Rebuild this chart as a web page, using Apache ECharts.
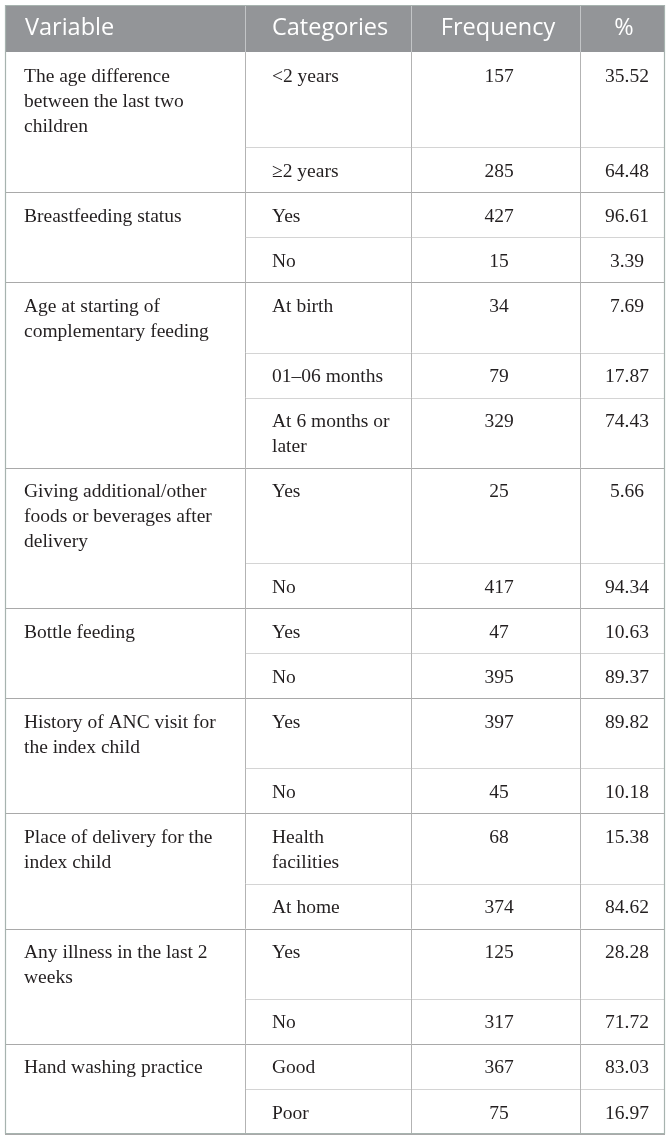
<!DOCTYPE html>
<html>
<head>
<meta charset="utf-8">
<script src="https://cdn.jsdelivr.net/npm/echarts@6/dist/echarts.min.js"></script>
<style>
  html, body { margin: 0; padding: 0; background: #ffffff; }
  #chart { width: 671px; height: 1139px; }
</style>
</head>
<body>
<div id="chart"></div>
<script>
// ---------------- DATA ----------------
const headers = ['Variable', 'Categories', 'Frequency', '%'];

const variables = [
  'The age difference\nbetween the last two\nchildren',
  'Breastfeeding status',
  'Age at starting of\ncomplementary feeding',
  'Giving additional/other\nfoods or beverages after\ndelivery',
  'Bottle feeding',
  'History of ANC visit for\nthe index child',
  'Place of delivery for the\nindex child',
  'Any illness in the last 2\nweeks',
  'Hand washing practice'
];

const categories = [
  '<2 years', '\u22652 years',
  'Yes', 'No',
  'At birth', '01\u201306 months', 'At 6 months or\nlater',
  'Yes', 'No',
  'Yes', 'No',
  'Yes', 'No',
  'Health\nfacilities', 'At home',
  'Yes', 'No',
  'Good', 'Poor'
];

const variableIndex = [0, 0, 1, 1, 2, 2, 2, 3, 3, 4, 4, 5, 5, 6, 6, 7, 7, 8, 8];

const frequency = [157, 285, 427, 15, 34, 79, 329, 25, 417, 47, 395, 397, 45, 68, 374, 125, 317, 367, 75];

const percent = [35.52, 64.48, 96.61, 3.39, 7.69, 17.87, 74.43, 5.66, 94.34, 10.63, 89.37, 89.82, 10.18, 15.38, 84.62, 28.28, 71.72, 83.03, 16.97];

// ---------------- LAYOUT ----------------
const COLS = [0, 240, 406, 575, 660];
const HEADER_H = 47;
const ROW_BASE = 20;
const LINE_H = 25;
const BODY_FAMILY = 'Liberation Serif';
const BODY_SIZE = 19.5;
const HEAD_FAMILY = 'Open Sans';
const HEAD_SIZE = 23.5;
const TEXT_COLOR = '#231f20';

const nLines = s => String(s).split('\n').length;

// rows computed from the data (line counts)
const rows = [];
let cursor = HEADER_H;
categories.forEach((c, i) => {
  const first = i === 0 || variableIndex[i] !== variableIndex[i - 1];
  const last = i === categories.length - 1 || variableIndex[i] !== variableIndex[i + 1];
  const lines = Math.max(nLines(c), first ? nLines(variables[variableIndex[i]]) : 1);
  const h = ROW_BASE + LINE_H * lines;
  rows.push({ top: cursor, bottom: cursor + h, first, last });
  cursor += h;
});
const TOTAL = cursor;

const px = v => Math.round(v) + 0.5;

function hLine(api, x1, x2, y, color) {
  const a = api.coord([x1, y]);
  const b = api.coord([x2, y]);
  return { type: 'line', shape: { x1: a[0], y1: px(a[1]), x2: b[0], y2: px(b[1]) }, style: { stroke: color, lineWidth: 1 } };
}
function vLine(api, x, y1, y2, color) {
  const a = api.coord([x, y1]);
  const b = api.coord([x, y2]);
  return { type: 'line', shape: { x1: px(a[0]), y1: a[1], x2: px(b[0]), y2: b[1] }, style: { stroke: color, lineWidth: 1 } };
}
function txt(api, x, y, text, align, dx, dy) {
  const p = api.coord([x, y]);
  return {
    type: 'text', x: p[0] + dx, y: p[1] + dy,
    style: { text: String(text), fill: TEXT_COLOR, fontFamily: BODY_FAMILY, fontSize: BODY_SIZE, align: align, verticalAlign: 'top', lineHeight: LINE_H }
  };
}

function renderHeader(params, api) {
  const tl = api.coord([COLS[0], 0]);
  const br = api.coord([COLS[4], HEADER_H]);
  const children = [
    { type: 'rect', shape: { x: tl[0], y: tl[1], width: br[0] - tl[0], height: br[1] - tl[1] }, style: { fill: '#939598' } }
  ];
  for (let k = 1; k < 4; k++) children.push(vLine(api, COLS[k], 0, HEADER_H, '#c3c5c7'));
  const mid = HEADER_H / 2;
  const mk = (x, t, align, dx) => {
    const p = api.coord([x, mid]);
    return { type: 'text', x: p[0] + dx, y: p[1],
      style: { text: t, fill: '#ffffff', fontFamily: HEAD_FAMILY, fontSize: HEAD_SIZE, align: align, verticalAlign: 'middle' } };
  };
  children.push(mk(COLS[0], headers[0], 'left', 20));
  children.push(mk(COLS[1], headers[1], 'left', 27));
  children.push(mk((COLS[2] + COLS[3]) / 2, headers[2], 'center', 2.5));
  children.push(mk((COLS[3] + COLS[4]) / 2, headers[3], 'center', 1.5));
  return { type: 'group', children };
}

function renderRow(params, api) {
  const i = params.dataIndex;
  const r = rows[i];
  const children = [];
  const dy = 12;
  if (r.first) {
    children.push(txt(api, COLS[0], r.top, variables[variableIndex[i]], 'left', 19, dy));
  }
  children.push(txt(api, COLS[1], r.top, categories[i], 'left', 27, dy));
  children.push(txt(api, (COLS[2] + COLS[3]) / 2, r.top, frequency[i], 'center', 3.5, dy));
  children.push(txt(api, (COLS[3] + COLS[4]) / 2, r.top, percent[i].toFixed(2), 'center', 4.5, dy));
  if (r.last) {
    children.push(hLine(api, COLS[0], COLS[4], r.bottom, '#a9a9a9'));
  } else {
    children.push(hLine(api, COLS[1], COLS[4], r.bottom, '#d4d4d4'));
  }
  for (let k = 1; k < 4; k++) children.push(vLine(api, COLS[k], r.top, r.bottom, '#b3b3b3'));
  return { type: 'group', children };
}

function renderBorder(params, api) {
  const tl = api.coord([COLS[0], 0]);
  const br = api.coord([COLS[4], TOTAL]);
  return {
    type: 'rect',
    shape: { x: px(tl[0]), y: px(tl[1]), width: Math.round(br[0] - tl[0]) - 1, height: Math.round(br[1] - tl[1]) - 1 },
    style: { fill: 'none', stroke: '#a7b3af', lineWidth: 1.2 }
  };
}

const chart = echarts.init(document.getElementById('chart'), null, { renderer: 'canvas' });
chart.setOption({
  animation: false,
  backgroundColor: '#ffffff',
  grid: { left: 5, right: 6, top: 5, bottom: 5, containLabel: false },
  xAxis: { type: 'value', min: 0, max: COLS[4], show: false },
  yAxis: { type: 'value', min: 0, max: TOTAL, inverse: true, show: false },
  series: [
    {
      type: 'custom', name: 'header', silent: true, clip: false,
      data: [[0, 0]], encode: { x: 0, y: 1 },
      renderItem: renderHeader, z: 2
    },
    {
      type: 'custom', name: 'rows', silent: true, clip: false,
      data: rows.map((r, i) => [frequency[i], r.top]), encode: { x: 0, y: 1 },
      renderItem: renderRow, z: 1
    },
    {
      type: 'custom', name: 'border', silent: true, clip: false,
      data: [[0, 0]], encode: { x: 0, y: 1 },
      renderItem: renderBorder, z: 3
    }
  ]
});
</script>
</body>
</html>
